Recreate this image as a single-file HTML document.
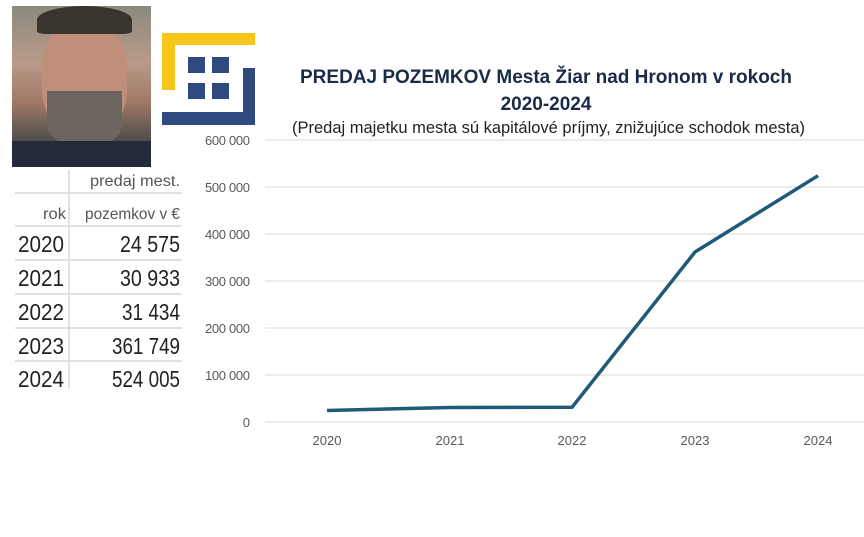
<!DOCTYPE html>
<html><head><meta charset="utf-8"><style>
body{margin:0;width:864px;height:537px;background:#fff;position:relative;overflow:hidden;font-family:"Liberation Sans",sans-serif}
.a{position:absolute}
</style></head><body>
<div class="a" style="left:12px;top:6px;width:139px;height:161px;background:linear-gradient(180deg,#8a8a80 0%,#b99a88 35%,#a07866 60%,#5a5450 80%,#2a2f40 100%)">
<div class="a" style="left:30px;top:10px;width:85px;height:120px;border-radius:45% 45% 40% 40%;background:#c08f7a"></div>
<div class="a" style="left:35px;top:85px;width:75px;height:55px;border-radius:0 0 40% 40%;background:#6d6660"></div>
<div class="a" style="left:25px;top:0;width:95px;height:28px;border-radius:50% 50% 10% 10%;background:#3a342f"></div>
<div class="a" style="left:0;top:135px;width:139px;height:26px;background:#252a3a"></div>
</div>
<svg class="a" style="left:0;top:0" width="864" height="537">
<rect x="162" y="33" width="93" height="12" fill="#f6c61b"/>
<rect x="162" y="33" width="13" height="57" fill="#f6c61b"/>
<rect x="243" y="68" width="12" height="57" fill="#2e4a7f"/>
<rect x="162" y="112" width="93" height="13" fill="#2e4a7f"/>
<rect x="188" y="57" width="17" height="16" fill="#2e4a7f"/><rect x="212" y="57" width="17" height="16" fill="#2e4a7f"/>
<rect x="188" y="83" width="17" height="16" fill="#2e4a7f"/><rect x="212" y="83" width="17" height="16" fill="#2e4a7f"/>
<g stroke="#d9d9d9" stroke-width="1">
<line x1="265" x2="864" y1="140" y2="140"/><line x1="265" x2="864" y1="187" y2="187"/><line x1="265" x2="864" y1="234" y2="234"/><line x1="265" x2="864" y1="281" y2="281"/><line x1="265" x2="864" y1="328" y2="328"/><line x1="265" x2="864" y1="375" y2="375"/><line x1="265" x2="864" y1="422" y2="422"/>
</g>
<g font-size="13" fill="#595959" text-anchor="end">
<text x="250" y="145" textLength="45">600 000</text><text x="250" y="192" textLength="45">500 000</text><text x="250" y="239" textLength="45">400 000</text><text x="250" y="286" textLength="45">300 000</text><text x="250" y="333" textLength="45">200 000</text><text x="250" y="380" textLength="45">100 000</text><text x="250" y="427">0</text>
</g>
<g font-size="13" fill="#595959" text-anchor="middle">
<text x="327" y="445">2020</text><text x="450" y="445">2021</text><text x="572" y="445">2022</text><text x="695" y="445">2023</text><text x="818" y="445">2024</text>
</g>
<polyline points="327,410.5 450,407.5 572,407.3 695,252 818,175.7" fill="none" stroke="#1f5a76" stroke-width="3.5" stroke-linejoin="round"/>
<g stroke="#d9d9d9" stroke-width="1.5">
<line x1="15" x2="182" y1="193" y2="193"/><line x1="15" x2="182" y1="226" y2="226"/><line x1="15" x2="182" y1="260" y2="260"/><line x1="15" x2="182" y1="294" y2="294"/><line x1="15" x2="182" y1="328" y2="328"/><line x1="15" x2="182" y1="361" y2="361"/>
<line x1="69" x2="69" y1="170" y2="388"/>
</g>
<g fill="#555" font-size="16">
<text x="90" y="186" textLength="90" lengthAdjust="spacingAndGlyphs">predaj mest.</text><text x="43" y="219" textLength="23" lengthAdjust="spacingAndGlyphs">rok</text><text x="85" y="219" textLength="95" lengthAdjust="spacingAndGlyphs">pozemkov v €</text>
</g>
<g fill="#222" font-size="23" lengthAdjust="spacingAndGlyphs">
<text x="18" y="252" textLength="46" lengthAdjust="spacingAndGlyphs">2020</text><text x="18" y="286" textLength="46" lengthAdjust="spacingAndGlyphs">2021</text><text x="18" y="320" textLength="46" lengthAdjust="spacingAndGlyphs">2022</text><text x="18" y="354" textLength="46" lengthAdjust="spacingAndGlyphs">2023</text><text x="18" y="387" textLength="46" lengthAdjust="spacingAndGlyphs">2024</text>
<text x="120" y="252" textLength="60" lengthAdjust="spacingAndGlyphs">24 575</text><text x="120" y="286" textLength="60" lengthAdjust="spacingAndGlyphs">30 933</text><text x="122" y="320" textLength="58" lengthAdjust="spacingAndGlyphs">31 434</text><text x="112" y="354" textLength="68" lengthAdjust="spacingAndGlyphs">361 749</text><text x="112" y="387" textLength="68" lengthAdjust="spacingAndGlyphs">524 005</text>
</g>
<g fill="#1b2a47" font-weight="bold" font-size="19" text-anchor="middle">
<text x="546" y="83">PREDAJ POZEMKOV Mesta Žiar nad Hronom v rokoch</text>
<text x="546" y="110">2020-2024</text>
</g>
<text x="292" y="133" font-size="17" fill="#222" textLength="513" lengthAdjust="spacingAndGlyphs">(Predaj majetku mesta sú kapitálové príjmy, znižujúce schodok mesta)</text>
</svg>
</body></html>
